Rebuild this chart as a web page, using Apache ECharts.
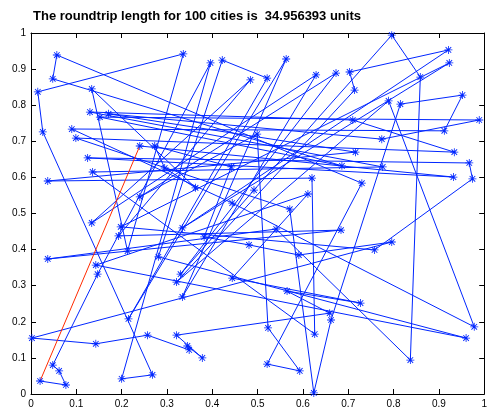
<html lang="en">
<head>
    <meta charset="UTF-8">
    <title>tsp</title>
</head>
<body style="margin:0">
    <div id="container" style="width:490px;height:411px"></div>

    <script src="https://cdn.jsdelivr.net/npm/echarts@6/dist/echarts.min.js"></script>
    <script>

        // city coordinates, in tour order (last one joins back to the first)
        var cityX = [0.240, 0.932, 0.125, 0.967, 0.974, 0.758, 0.198, 0.923, 0.334, 0.921,
                     0.703, 0.714, 0.321, 0.789, 0.978, 0.444, 0.090, 0.912, 0.952, 0.815,
                     0.662, 0.624, 0.571, 0.099, 0.934, 0.710, 0.130, 0.776, 0.136, 0.626,
                     0.620, 0.037, 0.716, 0.171, 0.774, 0.989, 0.152, 0.686, 0.048, 0.057,
                     0.730, 0.521, 0.593, 0.523, 0.499, 0.240, 0.673, 0.330, 0.492, 0.796,
                     0.859, 0.837, 0.541, 0.037, 0.684, 0.193, 0.484, 0.134, 0.629, 0.334,
                     0.563, 0.215, 0.521, 0.422, 0.281, 0.960, 0.143, 0.611, 0.444, 0.727,
                     0.565, 0.659, 0.321, 0.378, 0.345, 0.349, 0.257, 0.143, 0.002, 0.796,
                     0.591, 0.481, 0.382, 0.442, 0.273, 0.295, 0.363, 0.134, 0.213, 0.336,
                     0.015, 0.026, 0.268, 0.200, 0.396, 0.147, 0.048, 0.062, 0.077, 0.020];
        var cityY = [0.687, 0.601, 0.654, 0.640, 0.596, 0.399, 0.463, 0.917, 0.460, 0.953,
                     0.892, 0.842, 0.310, 0.812, 0.186, 0.529, 0.734, 0.729, 0.828, 0.803,
                     0.205, 0.003, 0.512, 0.709, 0.670, 0.759, 0.781, 0.629, 0.615, 0.166,
                     0.598, 0.590, 0.670, 0.776, 0.706, 0.759, 0.767, 0.632, 0.873, 0.939,
                     0.584, 0.083, 0.064, 0.183, 0.720, 0.546, 0.889, 0.332, 0.565, 0.994,
                     0.878, 0.094, 0.457, 0.374, 0.454, 0.438, 0.870, 0.474, 0.884, 0.269,
                     0.928, 0.208, 0.875, 0.925, 0.380, 0.155, 0.357, 0.554, 0.321, 0.252,
                     0.285, 0.224, 0.163, 0.100, 0.133, 0.122, 0.163, 0.139, 0.155, 0.421,
                     0.385, 0.413, 0.435, 0.629, 0.687, 0.626, 0.571, 0.845, 0.396, 0.942,
                     0.837, 0.726, 0.053, 0.042, 0.917, 0.332, 0.080, 0.064, 0.025, 0.036];
        var tourLength = '34.956393';
        var ticks = [0, 0.1, 0.2, 0.3, 0.4, 0.5, 0.6, 0.7, 0.8, 0.9, 1];

        paint();

        function paint(){
            var myChart = echarts.init(document.getElementById('container'));
            var star = 'path://M0 4.5L10 4.5L10 5.5L0 5.5Z M4.5 0L5.5 0L5.5 10L4.5 10Z' +
                       'M1.1 1.9L1.9 1.1L8.9 8.1L8.1 8.9Z M8.1 1.1L8.9 1.9L1.9 8.9L1.1 8.1Z';
            var tour = [];
            for (var i = 0; i < cityX.length; i++){
                tour.push([cityX[i], cityY[i]]);
            }
            var n = cityX.length;
            var closing = [[cityX[n-1], cityY[n-1]], [cityX[0], cityY[0]]];

            function axis(pos, labels){
                return {
                    type: 'value',
                    position: pos,
                    min: ticks[0],
                    max: ticks[ticks.length-1],
                    interval: 0.1,
                    splitLine: {show: false},
                    axisLine: {show: true, onZero: false, lineStyle: {color: '#000', width: 1}},
                    axisTick: {show: true, inside: true, length: 5, lineStyle: {color: '#000'}},
                    axisLabel: {
                        show: labels,
                        color: '#000',
                        fontSize: 10,
                        fontFamily: 'Liberation Sans',
                        margin: 5
                    }
                };
            }

            var option = {
                backgroundColor: 'white',
                animation: false,
                title: {
                    text: 'The roundtrip length for ' + n + ' cities is  ' + tourLength + ' units',
                    left: 28,
                    top: 5,
                    textStyle: {
                        fontSize: 13,
                        fontWeight: 'bold',
                        fontFamily: 'Liberation Sans',
                        color: '#000'
                    }
                },
                grid: {left: 31, right: 4, top: 33, bottom: 17},
                xAxis: [axis('bottom', true), axis('top', false)],
                yAxis: [axis('left', true), axis('right', false)],
                series: [{
                    type: 'line',
                    data: tour,
                    symbol: star,
                    symbolSize: 8,
                    showAllSymbol: true,
                    itemStyle: {color: '#0026ff'},
                    lineStyle: {color: '#0026ff', width: 1}
                }, {
                    type: 'line',
                    data: closing,
                    symbol: 'none',
                    lineStyle: {color: '#ff2a00', width: 1}
                }]
            };
            myChart.setOption(option);
        }

    </script>
</body>
</html>
